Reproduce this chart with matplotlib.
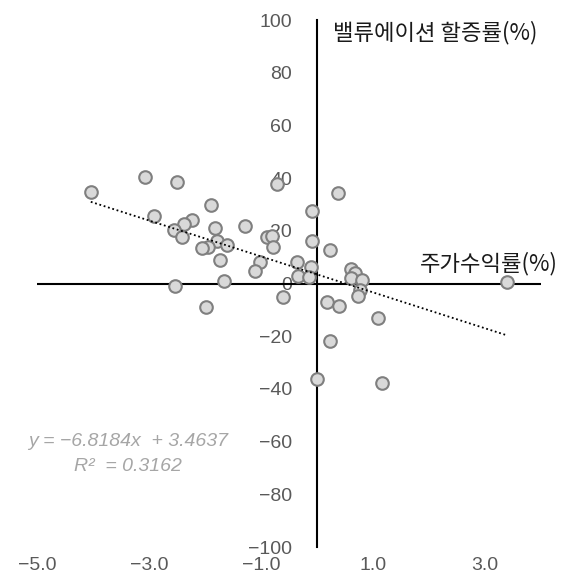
import matplotlib.pyplot as plt
import numpy as np

# 주가수익률(%) vs 밸류에이션 할증률(%)
stock_return = [
    -4.04, -3.07, -2.50, -0.71, -1.89, -2.91, -2.23, -2.38, -2.55, -1.82,
    -1.29, -2.41, -0.89, -0.80, -1.79, -1.61, -1.95, -2.05, -0.79, -0.09,
    -0.09, -1.73, -1.02, -1.11, -0.36, -0.11, -0.34, -0.14, -1.66, -2.54,
    -0.61, -1.98, 0.18, 0.375, 0.23, 0.61, 0.68, 0.61, 0.80, 0.77,
    0.73, 0.39, 1.09, 0.23, 0.00, 1.16, 3.39,
]
valuation_premium = [
    34.6, 40.3, 38.4, 37.6, 29.7, 25.5, 24.0, 22.5, 20.2, 21.0,
    21.7, 17.6, 17.6, 18.0, 16.1, 14.6, 13.8, 13.4, 13.8, 27.4,
    16.1, 8.9, 8.1, 4.7, 8.1, 6.2, 2.8, 2.5, 0.9, -0.9,
    -5.1, -8.9, -7.0, 34.2, 12.7, 5.5, 4.0, 2.1, 1.3, -2.5,
    -4.7, -8.5, -13.0, -21.7, -36.1, -37.6, 0.6,
]

# linear trend as reported
slope = -6.8184
intercept = 3.4637
r_squared = 0.3162

x_ticks = [-5, -3, -1, 1, 3]
y_ticks = list(range(-100, 101, 20))

fig = plt.figure(figsize=(5.67, 5.81), dpi=100)
ax = fig.add_axes([0.0653, 0.0585, 0.8889, 0.907])

ax.set_xlim(-5, 4)
ax.set_ylim(-100, 100)

# axes crossing at the origin
for side in ['top', 'right', 'bottom']:
    ax.spines[side].set_visible(False)
ax.spines['left'].set_position(('data', 0))
ax.spines['left'].set_linewidth(1.5)
ax.spines['left'].set_color('black')
ax.axhline(0, color='black', lw=1.5, zorder=2)

ax.set_xticks(x_ticks)
ax.set_xticklabels([f"{v:.1f}".replace('-', '\u2212') for v in x_ticks])
ax.set_yticks(y_ticks)
ax.set_yticklabels([str(v).replace('-', '\u2212') for v in y_ticks])
ax.tick_params(axis='both', length=0, labelsize=14, labelcolor='#595959')
ax.tick_params(axis='y', pad=18)
ax.tick_params(axis='x', pad=7)
for lab in ax.get_xticklabels() + ax.get_yticklabels():
    lab.set_family(['Liberation Sans', 'DejaVu Sans'])

ax.scatter(stock_return, valuation_premium, s=82, color='#d9d9d9',
           edgecolor='#7f7f7f', linewidth=1.5, zorder=3)

xs = np.array([min(stock_return), max(stock_return)])
ax.plot(xs, slope * xs + intercept, color='black', lw=1.3,
        linestyle=(0, (1, 1.5)), zorder=4)

korean = ['Noto Sans CJK KR', 'DejaVu Sans']
ax.text(0.286, 95.1, '밸류에이션 할증률(%)', fontsize=16, family=korean,
        color='#1a1a1a', ha='left', va='center')
ax.text(1.84, 7.6, '주가수익률(%)', fontsize=16, family=korean,
        color='#1a1a1a', ha='left', va='center')

eq_font = dict(fontsize=14, style='italic', color='#a6a6a6',
               family=['Liberation Sans', 'DejaVu Sans'], ha='center', va='center')
ax.text(-3.375, -59.8, f'y = \u2212{abs(slope)}x  + {intercept}', **eq_font)
ax.text(-3.375, -69.3, f'R\u00b2  = {r_squared}', **eq_font)

fig.savefig('out.png', dpi=100)
